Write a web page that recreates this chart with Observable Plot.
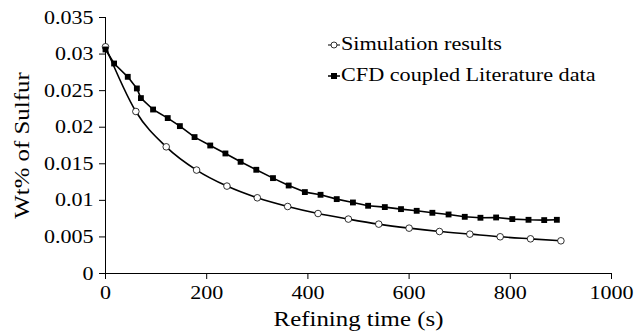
<!DOCTYPE html>
<html>
<head>
<meta charset="utf-8">
<script src="https://cdn.jsdelivr.net/npm/d3@7"></script>
<script src="https://cdn.jsdelivr.net/npm/@observablehq/plot@0.6"></script>
<style>
  html, body { margin: 0; padding: 0; background: #fff; }
  #wrap { position: relative; width: 641px; height: 336px; font-family: "Liberation Serif", "Times New Roman", serif; }
  #legend { position: absolute; left: 328px; top: 29px; font-size: 18.5px; color: #000; line-height: 31px; }
  #legend div { display: flex; align-items: center; white-space: nowrap; }
  #legend svg { margin-right: 1px; }
  #legend span { display: inline-block; transform: scaleX(1.2); transform-origin: left center; }
</style>
</head>
<body>
<div id="wrap"></div>
<script>
// Simulation results (open circles)
const simTime = [0, 60, 120, 180, 240, 300, 360, 420, 480, 540, 600, 660, 720, 780, 840, 900];
const simWt = [0.0310, 0.02215, 0.01732, 0.01414, 0.01195, 0.01035, 0.00916, 0.0082, 0.00744, 0.00675, 0.0062, 0.00574, 0.00538, 0.00502, 0.00474, 0.00447];

// CFD coupled Literature data (filled squares)
const cfdTime = [0, 17, 44, 62, 70, 94, 123, 147, 176, 207, 237, 267, 298, 331, 362, 394, 425, 457, 489, 519, 552, 584, 615, 646, 678, 710, 741, 772, 804, 836, 867, 892];
const cfdWt = [0.03063, 0.02871, 0.02689, 0.0253, 0.02398, 0.02242, 0.02125, 0.02015, 0.01865, 0.0175, 0.01641, 0.01527, 0.01418, 0.01304, 0.01203, 0.01113, 0.01076, 0.01017, 0.00971, 0.00926, 0.00908, 0.0088, 0.00857, 0.0083, 0.00807, 0.00775, 0.00762, 0.00766, 0.00744, 0.00734, 0.0073, 0.00734];

const xTicks = [0, 200, 400, 600, 800, 1000];
const yTicks = [0, 0.005, 0.01, 0.015, 0.02, 0.025, 0.03, 0.035];
const seriesNames = ["Simulation results", "CFD coupled Literature data"];

const sim = simTime.map((t, i) => ({t, v: simWt[i]}));
const cfd = cfdTime.map((t, i) => ({t, v: cfdWt[i]}));

const chart = Plot.plot({
  width: 641,
  height: 336,
  marginLeft: 105,
  marginRight: 30,
  marginTop: 17,
  marginBottom: 63,
  style: { fontFamily: "'Liberation Serif', 'Times New Roman', serif", fontSize: "19px", color: "#000", background: "#fff" },
  x: { domain: [0, 1000] },
  y: { domain: [0, 0.035] },
  marks: [
    Plot.axisX({ ticks: xTicks, tickSize: 6, tickPadding: 6, tickFormat: d => String(d), label: null, fontSize: 19, stroke: "#000", strokeOpacity: 1, strokeWidth: 1 }),
    Plot.axisX({ ticks: [], label: "Refining time (s)", labelAnchor: "center", labelArrow: "none", labelOffset: 52, fontSize: 22 }),
    Plot.axisY({ ticks: yTicks, tickSize: 6, tickPadding: 6, tickFormat: d => String(+d.toFixed(3)), label: null, fontSize: 19, stroke: "#000", strokeOpacity: 1, strokeWidth: 1 }),
    Plot.axisY({ ticks: [], label: "Wt% of Sulfur", labelAnchor: "center", labelArrow: "none", labelOffset: 92, fontSize: 22 }),
    Plot.ruleX([0], { stroke: "#000", strokeWidth: 1 }),
    Plot.ruleY([0], { stroke: "#000", strokeWidth: 1 }),
    Plot.line(sim, { x: "t", y: "v", curve: "monotone-x", stroke: "#000", strokeWidth: 1.6 }),
    Plot.dot(sim, { x: "t", y: "v", r: 3.3, fill: "#fff", stroke: "#000", strokeWidth: 0.8 }),
    Plot.line(cfd, { x: "t", y: "v", stroke: "#000", strokeWidth: 1.6 }),
    Plot.dot(cfd, { x: "t", y: "v", symbol: "square", r: 3.3, fill: "#000", stroke: "none" })
  ]
});

// The reference typeface is set slightly wide: stretch text horizontally about its anchor
function stretch(sel, k) {
  d3.select(chart).selectAll(sel).each(function() {
    let tr = this.getAttribute("transform");
    if (!tr) {
      const x = +this.getAttribute("x") || 0, y = +this.getAttribute("y") || 0;
      this.removeAttribute("x"); this.removeAttribute("y");
      tr = `translate(${x},${y})`;
    }
    this.setAttribute("transform", tr + ` scale(${k},1)`);
  });
}
stretch('g[aria-label="x-axis tick label"] text', 1.16);
stretch('g[aria-label="y-axis tick label"] text', 1.16);
stretch('g[aria-label="x-axis label"] text', 1.13);
stretch('g[aria-label="y-axis label"] text', 1.13);

const wrap = document.getElementById("wrap");
wrap.appendChild(chart);

const legend = document.createElement("div");
legend.id = "legend";
legend.innerHTML = `
  <div><svg width="12" height="10"><line x1="0" y1="5" x2="12" y2="5" stroke="#000" stroke-width="1"/><circle cx="6" cy="5" r="3" fill="#fff" stroke="#000" stroke-width="0.8"/></svg><span>${seriesNames[0]}</span></div>
  <div><svg width="12" height="10"><line x1="0" y1="5" x2="12" y2="5" stroke="#000" stroke-width="1.5"/><rect x="3" y="2" width="6" height="6" fill="#000"/></svg><span>${seriesNames[1]}</span></div>`;
wrap.appendChild(legend);
</script>
</body>
</html>
